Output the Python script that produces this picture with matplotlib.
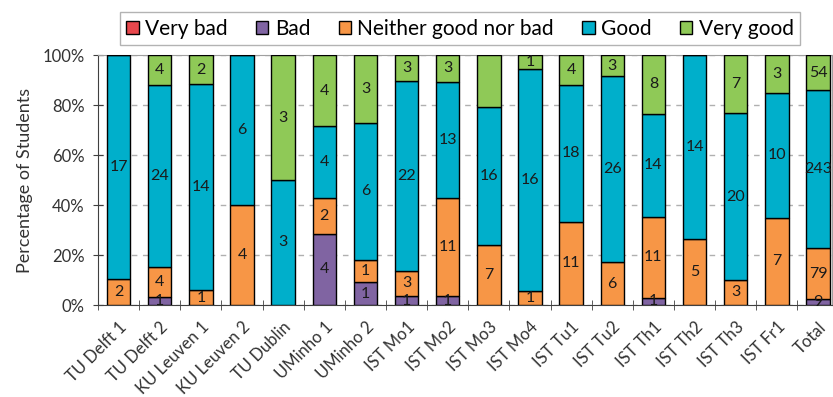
import matplotlib
matplotlib.use("Agg")
import matplotlib.pyplot as plt
import numpy as np

plt.rcParams['font.family'] = ['Lato', 'DejaVu Sans']

categories = ["TU Delft 1", "TU Delft 2", "KU Leuven 1", "KU Leuven 2", "TU Dublin",
              "UMinho 1", "UMinho 2", "IST Mo1", "IST Mo2", "IST Mo3", "IST Mo4",
              "IST Tu1", "IST Tu2", "IST Th1", "IST Th2", "IST Th3", "IST Fr1", "Total"]
series_names = ["Very bad", "Bad", "Neither good nor bad", "Good", "Very good"]
very_bad  = [0, 0, 0, 0, 0, 0, 0, 0, 0, 0, 0, 0, 0, 0, 0, 0, 0, 0]
bad       = [0, 1, 0, 0, 0, 4, 1, 1, 1, 0, 0, 0, 0, 1, 0, 0, 0, 9]
neither   = [2, 4, 1, 4, 0, 2, 1, 3, 11, 7, 1, 11, 6, 11, 5, 3, 7, 79]
good      = [17, 24, 14, 6, 3, 4, 6, 22, 13, 16, 16, 18, 26, 14, 14, 20, 10, 243]
very_good = [0, 4, 2, 0, 3, 4, 3, 3, 3, 6, 1, 4, 3, 8, 0, 7, 3, 54]
# the very-good value of IST Mo3 is not printed in the reference
hidden_labels = {(4, 9)}

colors = ["#E8474C", "#8064A2", "#F79646", "#00AFCB", "#8FC957"]

data = np.array([very_bad, bad, neither, good, very_good], dtype=float)
totals = data.sum(axis=0)
pct = data / totals * 100

fig = plt.figure(figsize=(8.33, 3.97), dpi=100)
ax = fig.add_axes([98/833, 1-305/397, (832-98)/833, (305-55)/397])

x = np.arange(len(categories))
bottom = np.zeros(len(categories))
handles = []
for i, name in enumerate(series_names):
    b = ax.bar(x, pct[i], 0.57, bottom=bottom, color=colors[i], edgecolor="black",
               linewidth=1.0, label=name, zorder=3)
    handles.append(b)
    for j in range(len(categories)):
        if data[i, j] > 0 and (i, j) not in hidden_labels:
            ax.text(x[j], bottom[j] + pct[i, j] / 2, f"{int(data[i, j])}",
                    ha="center", va="center", fontsize=11.5, color="#1a1a1a", zorder=4)
    bottom += pct[i]

ax.set_xlim(-0.5, 17.34)
ax.set_ylim(0, 100)
ax.set_yticks([0, 20, 40, 60, 80, 100])
ax.set_yticklabels([f"{v}%" for v in [0, 20, 40, 60, 80, 100]], fontsize=12, color="#333333")
ax.yaxis.grid(True, linestyle=(0, (4, 4)), color="#b0b0b0", linewidth=1, zorder=0)
ax.set_axisbelow(True)
ax.set_ylabel("Percentage of Students", fontsize=13, labelpad=7, color="#333333")

ax.set_xticks(x)
ax.set_xticklabels(categories, rotation=45, ha="right", rotation_mode="anchor",
                   fontsize=12, color="#333333")
ax.tick_params(axis="x", length=0, pad=10)
ax.set_xticks(np.arange(-0.5, 17.5, 1), minor=True)
ax.tick_params(axis="x", which="minor", length=7, direction="inout", color="#404040")
ax.tick_params(axis="y", length=7, direction="inout", color="#404040", pad=6)

for s in ["left", "bottom"]:
    ax.spines[s].set_color("#404040")
for s in ["top", "right"]:
    ax.spines[s].set_color("#a0a0a0")

leg = fig.legend(handles=handles, labels=series_names, loc="upper center",
                 bbox_to_anchor=(460/833, 1-2/397), ncol=5, fontsize=15,
                 frameon=True, fancybox=False, edgecolor="#a0a0a0",
                 handlelength=0.6, handleheight=0.6, handletextpad=0.3,
                 columnspacing=1.36, borderpad=0.3)
leg.get_frame().set_linewidth(1)

fig.savefig("out.png", dpi=100)
